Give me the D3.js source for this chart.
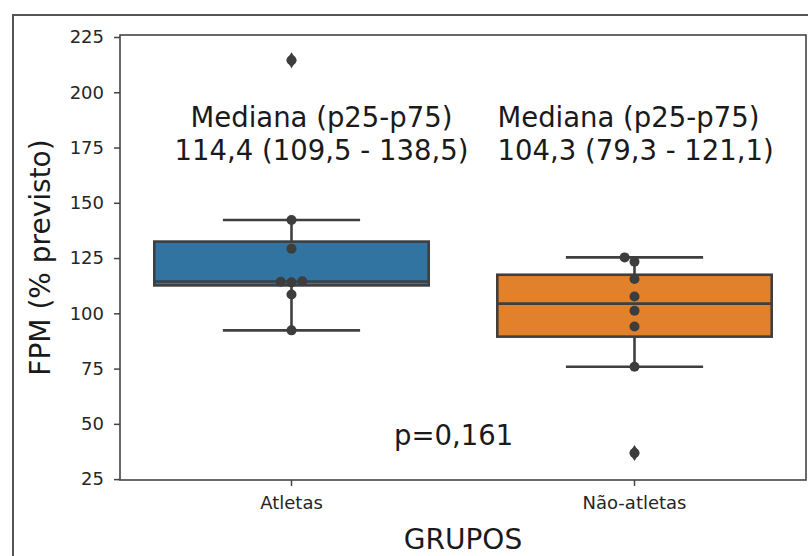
<!DOCTYPE html>
<html>
<head>
<meta charset="utf-8">
<script src="https://cdn.jsdelivr.net/npm/d3@7"></script>
<style>
    html, body { margin: 0; padding: 0; background: #fff; }
    svg { display: block; font-family: "DejaVu Sans", sans-serif; }
</style>
</head>
<body>
<div id="chart"></div>
<script>
/*global d3*/
(function () {
    "use strict";

    // values
    var groups = ["Atletas", "Não-atletas"],
        atletasValues = [214.5, 142.2, 129.2, 114.5, 114.3, 114.0, 108.5, 92.3],
        naoAtletasValues = [125.3, 123.3, 115.5, 107.6, 101.2, 94.0, 75.8, 36.8],
        yTicks = [25, 50, 75, 100, 125, 150, 175, 200, 225],
        summaryLines = [
            ["Mediana (p25-p75)", "114,4 (109,5 - 138,5)"],
            ["Mediana (p25-p75)", "104,3 (79,3 - 121,1)"]
        ],
        pValueLabel = "p=0,161",
        yLabel = "FPM (% previsto)",
        xLabel = "GRUPOS",
        boxColors = ["#3274a1", "#e1812c"];

    var width = 808,
        height = 556,
        plot = {left: 120, top: 35, right: 806, bottom: 480},
        lineGray = "#3f3f3f",
        dotRadius = 5,
        svg,
        xScale,
        yScale,
        allValues = [atletasValues, naoAtletasValues];

    svg = d3.select("#chart").append("svg")
        .attr("width", width)
        .attr("height", height);

    //outer frame of the figure, runs off the right and bottom edges
    svg.append("rect")
        .attr("x", 13)
        .attr("y", 15)
        .attr("width", width + 20)
        .attr("height", height + 20)
        .attr("fill", "none")
        .attr("stroke", "#555")
        .attr("stroke-width", 2);

    xScale = d3.scaleBand()
        .domain(groups)
        .range([plot.left, plot.right])
        .padding(0);

    yScale = d3.scaleLinear()
        .domain([24.6, 225.9])
        .range([plot.bottom, plot.top]);

    //axes
    var yAxis = svg.append("g")
        .attr("transform", "translate(" + plot.left + ",0)")
        .call(d3.axisLeft(yScale).tickValues(yTicks).tickSize(6).tickPadding(10));

    var xAxis = svg.append("g")
        .attr("transform", "translate(0," + plot.bottom + ")")
        .call(d3.axisBottom(xScale).tickSize(6).tickPadding(10));

    [yAxis, xAxis].forEach(function (ax) {
        ax.select(".domain").remove();
        ax.selectAll(".tick line").attr("stroke", "#444").attr("stroke-width", 1.5);
        ax.selectAll(".tick text")
            .attr("fill", "#262626")
            .style("font-family", "DejaVu Sans")
            .style("font-size", "18px");
    });

    //box stats, same as numpy's linear percentiles
    function boxStats(values) {
        var sorted = values.slice().sort(d3.ascending),
            q1 = d3.quantileSorted(sorted, 0.25),
            med = d3.quantileSorted(sorted, 0.5),
            q3 = d3.quantileSorted(sorted, 0.75),
            iqr = q3 - q1,
            lowLim = q1 - 1.5 * iqr,
            highLim = q3 + 1.5 * iqr,
            inside = sorted.filter(function (v) { return v >= lowLim && v <= highLim; });
        return {
            q1: q1,
            med: med,
            q3: q3,
            lo: d3.min(inside),
            hi: d3.max(inside),
            fliers: sorted.filter(function (v) { return v < lowLim || v > highLim; })
        };
    }

    //simple beeswarm in pixel space
    function swarm(values, cx) {
        var placed = [],
            minDist = 2 * dotRadius + 0.8;
        values.slice().sort(d3.ascending).forEach(function (v) {
            var y = yScale(v),
                candidates = [0],
                chosen;
            placed.forEach(function (p) {
                var dy = Math.abs(p.y - y),
                    dx;
                if (dy < minDist) {
                    dx = Math.sqrt(minDist * minDist - dy * dy);
                    candidates.push(p.off - dx, p.off + dx);
                }
            });
            candidates.sort(function (a, b) { return Math.abs(a) - Math.abs(b); });
            chosen = candidates.find(function (c) {
                return placed.every(function (p) {
                    var ddx = p.off - c, ddy = p.y - y;
                    return Math.sqrt(ddx * ddx + ddy * ddy) >= minDist - 0.01;
                });
            });
            placed.push({off: chosen, y: y, v: v});
        });
        return placed.map(function (p) {
            return {x: cx + p.off, y: p.y};
        });
    }

    var boxWidth = xScale.bandwidth() * 0.8,
        boxesG = svg.append("g"),
        dotsG = svg.append("g");

    groups.forEach(function (name, i) {
        var st = boxStats(allValues[i]),
            cx = xScale(name) + xScale.bandwidth() / 2,
            g = boxesG.append("g");

        //whiskers
        g.append("line")
            .attr("x1", cx).attr("x2", cx)
            .attr("y1", yScale(st.q3)).attr("y2", yScale(st.hi));
        g.append("line")
            .attr("x1", cx).attr("x2", cx)
            .attr("y1", yScale(st.q1)).attr("y2", yScale(st.lo));
        //caps
        [st.hi, st.lo].forEach(function (v) {
            g.append("line")
                .attr("x1", cx - boxWidth / 4).attr("x2", cx + boxWidth / 4)
                .attr("y1", yScale(v)).attr("y2", yScale(v));
        });
        g.selectAll("line")
            .attr("stroke", lineGray)
            .attr("stroke-width", 2.6);

        //the box
        g.append("rect")
            .attr("x", cx - boxWidth / 2)
            .attr("y", yScale(st.q3))
            .attr("width", boxWidth)
            .attr("height", yScale(st.q1) - yScale(st.q3))
            .attr("fill", boxColors[i])
            .attr("stroke", lineGray)
            .attr("stroke-width", 2.6);

        //median
        g.append("line")
            .attr("x1", cx - boxWidth / 2).attr("x2", cx + boxWidth / 2)
            .attr("y1", yScale(st.med)).attr("y2", yScale(st.med))
            .attr("stroke", lineGray)
            .attr("stroke-width", 2.6);

        //fliers as thin diamonds
        g.selectAll(".flier").data(st.fliers).enter().append("path")
            .attr("class", "flier")
            .attr("d", "M0,-8L5,0L0,8L-5,0Z")
            .attr("transform", function (d) { return "translate(" + cx + "," + yScale(d) + ")"; })
            .attr("fill", lineGray);

        //swarm points on top
        dotsG.selectAll(".dot" + i).data(swarm(allValues[i], cx)).enter().append("circle")
            .attr("class", "dot" + i)
            .attr("cx", function (d) { return d.x; })
            .attr("cy", function (d) { return d.y; })
            .attr("r", dotRadius)
            .attr("fill", "#3d3d3d");
    });

    //spines
    svg.append("rect")
        .attr("x", plot.left)
        .attr("y", plot.top)
        .attr("width", plot.right - plot.left)
        .attr("height", plot.bottom - plot.top)
        .attr("fill", "none")
        .attr("stroke", "#444")
        .attr("stroke-width", 1.6);

    //annotations
    var annoG = svg.append("g")
        .attr("fill", "#1a1a1a")
        .style("font-size", "27.5px");

    var annoLayout = [
        {x: xScale(groups[0]) + xScale.bandwidth() / 2 + 30, anchor: "middle"},
        {x: xScale(groups[1]) + xScale.bandwidth() / 2 - 137, anchor: "start"}
    ];

    summaryLines.forEach(function (lines, i) {
        lines.forEach(function (txt, j) {
            annoG.append("text")
                .attr("x", annoLayout[i].x)
                .attr("y", 127 + j * 33)
                .attr("text-anchor", annoLayout[i].anchor)
                .text(txt);
        });
    });

    annoG.append("text")
        .attr("x", 394)
        .attr("y", 445)
        .text(pValueLabel);

    //axis labels
    svg.append("text")
        .attr("transform", "translate(50," + (plot.top + plot.bottom) / 2 + ") rotate(-90)")
        .attr("text-anchor", "middle")
        .attr("fill", "#1a1a1a")
        .style("font-size", "28px")
        .text(yLabel);

    svg.append("text")
        .attr("x", (plot.left + plot.right) / 2)
        .attr("y", 549)
        .attr("text-anchor", "middle")
        .attr("fill", "#1a1a1a")
        .style("font-size", "28px")
        .text(xLabel);
}());
</script>
</body>
</html>
